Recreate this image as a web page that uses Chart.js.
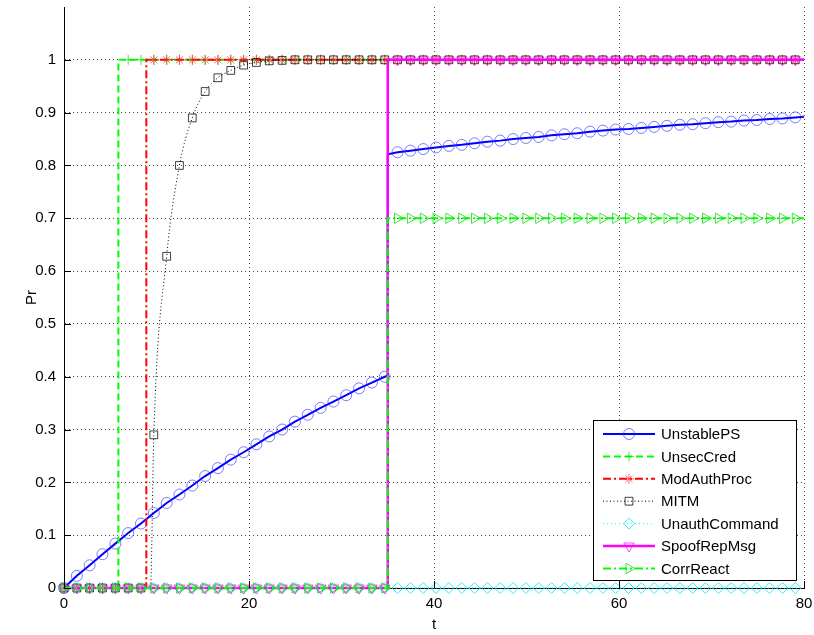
<!DOCTYPE html>
<html>
<head>
<meta charset="utf-8">
<script src="https://cdn.jsdelivr.net/npm/chart.js"></script>
<style>
  body { margin: 0; background: #fff; }
  #wrap { width: 814px; height: 635px; }
</style>
</head>
<body>
<div id="wrap"><canvas id="chartCanvas"></canvas></div>
<script>
// sample times where the markers sit
const tGrid = [
  0, 1.39, 2.77, 4.16, 5.55, 6.94, 8.32, 9.71, 11.10, 12.48,
  13.87, 15.26, 16.64, 18.03, 19.42, 20.80, 22.19, 23.58, 24.97, 26.35,
  27.74, 29.13, 30.51, 31.90, 33.29, 34.68, 36.06, 37.45, 38.84, 40.22,
  41.61, 43.00, 44.38, 45.77, 47.16, 48.55, 49.93, 51.32, 52.71, 54.09,
  55.48, 56.87, 58.26, 59.64, 61.03, 62.42, 63.80, 65.19, 66.58, 67.96,
  69.35, 70.74, 72.13, 73.51, 74.90, 76.29, 77.67, 79.06
];

const unstablePS = [
  0, 0.023, 0.043, 0.064, 0.084, 0.104, 0.122, 0.142, 0.161, 0.177,
  0.194, 0.212, 0.227, 0.243, 0.257, 0.272, 0.287, 0.300, 0.315, 0.328,
  0.341, 0.353, 0.365, 0.378, 0.389, 0.400, 0.825, 0.828, 0.831, 0.834,
  0.837, 0.839, 0.842, 0.845, 0.847, 0.850, 0.852, 0.854, 0.857, 0.859,
  0.861, 0.864, 0.866, 0.868, 0.869, 0.871, 0.873, 0.875, 0.877, 0.878,
  0.880, 0.882, 0.883, 0.885, 0.886, 0.888, 0.889, 0.891
];
const unsecCred = [
  0, 0, 0, 0, 0, 1, 1, 1, 1, 1,
  1, 1, 1, 1, 1, 1, 1, 1, 1, 1,
  1, 1, 1, 1, 1, 1, 1, 1, 1, 1,
  1, 1, 1, 1, 1, 1, 1, 1, 1, 1,
  1, 1, 1, 1, 1, 1, 1, 1, 1, 1,
  1, 1, 1, 1, 1, 1, 1, 1
];
const modAuthProc = [
  0, 0, 0, 0, 0, 0, 0, 1, 1, 1,
  1, 1, 1, 1, 1, 1, 1, 1, 1, 1,
  1, 1, 1, 1, 1, 1, 1, 1, 1, 1,
  1, 1, 1, 1, 1, 1, 1, 1, 1, 1,
  1, 1, 1, 1, 1, 1, 1, 1, 1, 1,
  1, 1, 1, 1, 1, 1, 1, 1
];
const mitm = [
  0, 0, 0, 0, 0, 0, 0, 0.29, 0.628, 0.80,
  0.89, 0.94, 0.966, 0.980, 0.990, 0.995, 0.998, 0.999, 1, 1,
  1, 1, 1, 1, 1, 1, 1, 1, 1, 1,
  1, 1, 1, 1, 1, 1, 1, 1, 1, 1,
  1, 1, 1, 1, 1, 1, 1, 1, 1, 1,
  1, 1, 1, 1, 1, 1, 1, 1
];
const unauthCommand = [
  0, 0, 0, 0, 0, 0, 0, 0, 0, 0,
  0, 0, 0, 0, 0, 0, 0, 0, 0, 0,
  0, 0, 0, 0, 0, 0, 0, 0, 0, 0,
  0, 0, 0, 0, 0, 0, 0, 0, 0, 0,
  0, 0, 0, 0, 0, 0, 0, 0, 0, 0,
  0, 0, 0, 0, 0, 0, 0, 0
];
const spoofRepMsg = [
  0, 0, 0, 0, 0, 0, 0, 0, 0, 0,
  0, 0, 0, 0, 0, 0, 0, 0, 0, 0,
  0, 0, 0, 0, 0, 0, 1, 1, 1, 1,
  1, 1, 1, 1, 1, 1, 1, 1, 1, 1,
  1, 1, 1, 1, 1, 1, 1, 1, 1, 1,
  1, 1, 1, 1, 1, 1, 1, 1
];
const corrReact = [
  0, 0, 0, 0, 0, 0, 0, 0, 0, 0,
  0, 0, 0, 0, 0, 0, 0, 0, 0, 0,
  0, 0, 0, 0, 0, 0, 0.7, 0.7, 0.7, 0.7,
  0.7, 0.7, 0.7, 0.7, 0.7, 0.7, 0.7, 0.7, 0.7, 0.7,
  0.7, 0.7, 0.7, 0.7, 0.7, 0.7, 0.7, 0.7, 0.7, 0.7,
  0.7, 0.7, 0.7, 0.7, 0.7, 0.7, 0.7, 0.7
];

// line corners between the markers (jumps and the end at t = 80)
const unstablePSSteps = [[35, 0.402], [35, 0.821], [80, 0.892]];
const unsecCredSteps = [[5.88, 0], [5.88, 1], [80, 1]];
const modAuthProcSteps = [[8.9, 0], [8.9, 1], [80, 1]];
const mitmSteps = [[9.35, 0], [80, 1]];
const unauthCommandSteps = [[80, 0]];
const spoofRepMsgSteps = [[35, 0], [35, 1], [80, 1]];
const corrReactSteps = [[35, 0], [35, 0.7], [80, 0.7]];

const seriesNames = ['UnstablePS', 'UnsecCred', 'ModAuthProc', 'MITM', 'UnauthCommand', 'SpoofRepMsg', 'CorrReact'];
const xTicks = [0, 20, 40, 60, 80];
const yTicks = [0, 0.1, 0.2, 0.3, 0.4, 0.5, 0.6, 0.7, 0.8, 0.9, 1];

function buildPoints(vals, steps) {
    let pts = tGrid.map((t, i) => ({ x: t, y: vals[i], mk: true }));
    steps.forEach(s => pts.push({ x: s[0], y: s[1], mk: false }));
    return pts.sort((a, b) => a.x - b.x);
}

const styles = [
    { color: '#0000ff', mark: 'rgba(40,40,255,0.6)', width: 2, dash: [], point: 'circle', r: 5.5, rot: 0 },
    { color: '#00ff00', mark: 'rgba(0,230,0,0.75)', width: 2, dash: [7, 4], point: 'cross', r: 5, rot: 0 },
    { color: '#ff0000', mark: 'rgba(255,40,40,0.7)', width: 2, dash: [8, 3, 2, 3], point: 'star', r: 5, rot: 0 },
    { color: '#000000', mark: 'rgba(0,0,0,0.75)', width: 1, dash: [1, 2.5], point: 'rect', r: 5.5, rot: 0 },
    { color: '#00ffff', mark: 'rgba(0,230,255,0.8)', width: 1, dash: [1, 3], point: 'rectRot', r: 5.5, rot: 0 },
    { color: '#ff00ff', mark: 'rgba(255,0,255,0.7)', width: 2.5, dash: [], point: 'triangle', r: 6, rot: 180 },
    { color: '#00ff00', mark: 'rgba(0,220,0,0.75)', width: 2, dash: [8, 3, 2, 3], point: 'triangle', r: 6, rot: 90 }
];
const allVals = [unstablePS, unsecCred, modAuthProc, mitm, unauthCommand, spoofRepMsg, corrReact];
const allSteps = [unstablePSSteps, unsecCredSteps, modAuthProcSteps, mitmSteps, unauthCommandSteps, spoofRepMsgSteps, corrReactSteps];

const datasets = seriesNames.map((name, i) => {
    const s = styles[i];
    return {
        label: name,
        data: buildPoints(allVals[i], allSteps[i]),
        borderColor: s.color,
        borderWidth: s.width,
        borderDash: s.dash,
        pointStyle: s.point,
        pointRotation: s.rot,
        pointRadius: ctx => (ctx.raw && ctx.raw.mk ? s.r : 0),
        pointBorderColor: s.mark,
        pointBorderWidth: 1,
        pointBackgroundColor: 'rgba(0,0,0,0)',
        cubicInterpolationMode: i === 3 ? 'monotone' : 'default',
        fill: false,
        clip: false,
        order: seriesNames.length - i
    };
});

const FONT = '"Liberation Sans", Arial, sans-serif';

// matlab style ticks pointing into the axes
const innerTicks = {
    id: 'innerTicks',
    afterDatasetsDraw(chart) {
        const ctx = chart.ctx, a = chart.chartArea;
        const xs = chart.scales.x, ys = chart.scales.y;
        ctx.save();
        ctx.strokeStyle = '#000';
        ctx.lineWidth = 1;
        ctx.beginPath();
        xTicks.forEach(v => {
            const px = Math.round(xs.getPixelForValue(v)) + 0.5;
            ctx.moveTo(px, a.bottom);
            ctx.lineTo(px, a.bottom - 7);
        });
        yTicks.forEach(v => {
            const py = Math.round(ys.getPixelForValue(v)) + 0.5;
            ctx.moveTo(a.left, py);
            ctx.lineTo(a.left + 7, py);
        });
        ctx.stroke();
        ctx.restore();
    }
};

const boxLegend = {
    id: 'boxLegend',
    afterDraw(chart) {
        const ctx = chart.ctx;
        const bx = 593.5, by = 420.5, bw = 203, bh = 160;
        ctx.save();
        ctx.fillStyle = '#fff';
        ctx.fillRect(bx, by, bw, bh);
        ctx.strokeStyle = '#000';
        ctx.lineWidth = 1;
        ctx.strokeRect(bx, by, bw, bh);
        chart.data.datasets.forEach((ds, i) => {
            const s = styles[i];
            const y = 434 + i * 22.4;
            ctx.strokeStyle = s.color;
            ctx.lineWidth = s.width;
            ctx.setLineDash(s.dash);
            ctx.beginPath();
            ctx.moveTo(603, y);
            ctx.lineTo(655, y);
            ctx.stroke();
            ctx.setLineDash([]);
            ctx.lineWidth = 1;
            ctx.strokeStyle = s.mark;
            ctx.fillStyle = 'rgba(0,0,0,0)';
            if (Chart.helpers && Chart.helpers.drawPoint) {
                Chart.helpers.drawPoint(ctx, { pointStyle: s.point, rotation: s.rot, radius: s.r, borderWidth: 1 }, 629, y);
            }
            ctx.fillStyle = '#000';
            ctx.font = '15px ' + FONT;
            ctx.textBaseline = 'middle';
            ctx.textAlign = 'left';
            ctx.fillText(ds.label, 661, y + 1);
        });
        ctx.restore();
    }
};

const ctx = document.getElementById('chartCanvas').getContext('2d');
window.myChart = new Chart(ctx, {
    type: 'line',
    data: { datasets: datasets },
    options: {
        responsive: true,
        maintainAspectRatio: false,
        animation: false,
        events: [],
        layout: { padding: { top: 3, right: 10, left: 0, bottom: 0 } },
        plugins: {
            legend: { display: false },
            tooltip: { enabled: false }
        },
        scales: {
            x: {
                type: 'linear',
                min: 0,
                max: 80,
                afterBuildTicks: axis => { axis.ticks = xTicks.map(v => ({ value: v })); },
                afterFit: axis => { axis.height = 47; axis.paddingLeft = 0; axis.paddingRight = 0; },
                ticks: { color: '#000', font: { family: FONT, size: 15 }, padding: 7, callback: v => String(v) },
                grid: { color: 'rgba(0,0,0,0.7)', drawTicks: false },
                border: { display: true, color: '#000', width: 1, dash: [1, 3] },
                title: { display: true, text: 't', color: '#000', font: { family: FONT, size: 15 }, padding: { top: 0, bottom: 1 } }
            },
            y: {
                min: 0,
                max: 1.1,
                afterBuildTicks: axis => { axis.ticks = yTicks.map(v => ({ value: v })); },
                afterFit: axis => { axis.width = 64; axis.paddingTop = 0; axis.paddingBottom = 0; },
                ticks: { color: '#000', font: { family: FONT, size: 15 }, padding: 8, callback: v => String(v) },
                grid: { color: 'rgba(0,0,0,0.7)', drawTicks: false },
                border: { display: true, color: '#000', width: 1, dash: [1, 3] },
                title: { display: true, text: 'Pr', color: '#000', font: { family: FONT, size: 15 }, padding: { top: 23, bottom: 0 } }
            }
        }
    },
    plugins: [innerTicks, boxLegend]
});
</script>
</body>
</html>
